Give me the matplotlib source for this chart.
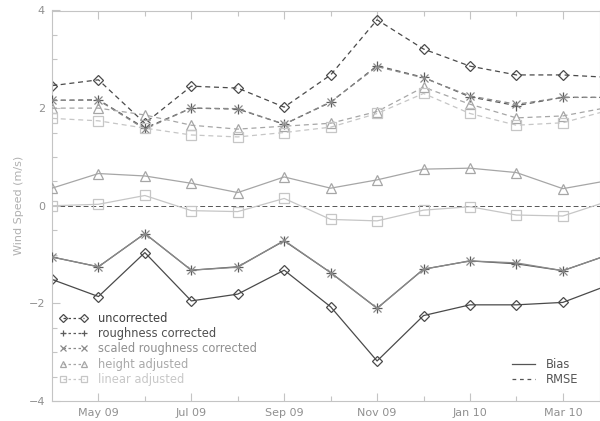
import matplotlib
matplotlib.use("Agg")
import matplotlib.pyplot as plt
from matplotlib.lines import Line2D
import numpy as np

months = list(range(13))  # Apr 09 .. Apr 10
tick_pos = [1, 3, 5, 7, 9, 11]
tick_labels = ["May 09", "Jul 09", "Sep 09", "Nov 09", "Jan 10", "Mar 10"]
minor_pos = [2, 4, 6, 8, 10]

series_names = ["uncorrected", "roughness corrected", "scaled roughness corrected",
                "height adjusted", "linear adjusted"]

rmse_uncorrected = [2.46, 2.58, 1.69, 2.45, 2.41, 2.02, 2.68, 3.81, 3.21, 2.86, 2.68, 2.68, 2.63]
rmse_roughness   = [2.16, 2.17, 1.59, 2.00, 1.98, 1.67, 2.12, 2.87, 2.63, 2.23, 2.05, 2.22, 2.22]
rmse_scaled      = [2.16, 2.16, 1.57, 2.00, 1.99, 1.67, 2.13, 2.85, 2.62, 2.25, 2.08, 2.22, 2.22]
rmse_height      = [2.00, 2.00, 1.86, 1.65, 1.57, 1.63, 1.69, 1.93, 2.43, 2.08, 1.80, 1.84, 2.02]
rmse_linear      = [1.79, 1.74, 1.59, 1.45, 1.41, 1.50, 1.61, 1.89, 2.30, 1.89, 1.65, 1.70, 1.96]

bias_uncorrected = [-1.51, -1.86, -0.96, -1.95, -1.81, -1.32, -2.07, -3.18, -2.25, -2.03, -2.03, -1.98, -1.62]
bias_roughness   = [-1.05, -1.25, -0.57, -1.32, -1.25, -0.72, -1.37, -2.10, -1.30, -1.13, -1.19, -1.33, -1.00]
bias_scaled      = [-1.05, -1.25, -0.57, -1.32, -1.26, -0.71, -1.37, -2.10, -1.30, -1.13, -1.17, -1.33, -1.00]
bias_height      = [0.36, 0.66, 0.61, 0.46, 0.27, 0.59, 0.36, 0.53, 0.75, 0.77, 0.68, 0.35, 0.52]
bias_linear      = [0.00, 0.03, 0.21, -0.10, -0.12, 0.15, -0.28, -0.31, -0.09, -0.02, -0.19, -0.21, 0.10]

colors = ["#4a4a4a", "#5c5c5c", "#8a8a8a", "#a6a6a6", "#c6c6c6"]
text_colors = ["#404040", "#505050", "#909090", "#aaaaaa", "#c8c8c8"]
markers = ["D", "+", "x", "^", "s"]
msizes = [5, 7, 6, 6.5, 6.5]

rmse = [rmse_uncorrected, rmse_roughness, rmse_scaled, rmse_height, rmse_linear]
bias = [bias_uncorrected, bias_roughness, bias_scaled, bias_height, bias_linear]

fig = plt.figure(figsize=(6.0, 4.21), dpi=100)
ax = fig.add_axes([52/600, 1-401/421, 1-52/600, (401-10.5)/421])

dash = (0, (4, 3))
ax.axhline(0, color="#555555", lw=0.7, ls=(0, (5, 3)), zorder=1)

order = [4, 3, 2, 1, 0]
for i in order:
    ax.plot(months, rmse[i], color=colors[i], ls=dash, lw=0.9, marker=markers[i],
            ms=msizes[i], mfc="none", mec=colors[i], mew=0.9, clip_on=True, zorder=2+i)
    ax.plot(months, bias[i], color=colors[i], ls="-", lw=0.9, marker=markers[i],
            ms=msizes[i], mfc="none", mec=colors[i], mew=0.9, clip_on=True, zorder=2+i)

ax.set_xlim(0, 11.8)
ax.set_ylim(-4, 4)
ax.set_xticks(tick_pos)
ax.set_xticklabels(tick_labels)
ax.set_xticks(minor_pos, minor=True)
ax.set_yticks([-4, -2, 0, 2, 4])
ax.set_yticklabels(["\u22124", "\u22122", "0", "2", "4"])
ax.set_yticks(np.arange(-4, 4.01, 0.5), minor=True)

spine_c = "#c4c4c4"
for s in ax.spines.values():
    s.set_color(spine_c)
    s.set_linewidth(0.8)
ax.tick_params(axis="both", which="both", direction="in", color=spine_c, width=0.8,
               top=True, right=False, labelcolor="#909090", labelsize=8)
ax.tick_params(axis="both", which="major", length=6, pad=5)
ax.tick_params(axis="both", which="minor", length=3.5)
ax.set_ylabel("Wind Speed (m/s)", color="#b0b0b0", fontsize=8, labelpad=3)

leg_ms = [4, 5, 4.5, 5, 5]
handles = []
for i in range(5):
    handles.append(Line2D([0], [0], color=colors[i], ls=(0, (2, 2)), lw=0.9,
                          marker=markers[i], ms=leg_ms[i], mfc="none",
                          mec=colors[i], mew=0.9))
leg1 = ax.legend(handles, series_names, loc="lower left", bbox_to_anchor=(-0.005, 0.012),
                 frameon=False, numpoints=2, handlelength=2.4, handletextpad=0.9,
                 labelspacing=0.2, fontsize=8.3)
for t, c in zip(leg1.get_texts(), text_colors):
    t.set_color(c)
ax.add_artist(leg1)

h2 = [Line2D([0], [0], color="#555555", ls="-", lw=0.9),
      Line2D([0], [0], color="#555555", ls=(0, (3, 3)), lw=0.9)]
leg2 = ax.legend(h2, ["Bias", "RMSE"], loc="lower left", bbox_to_anchor=(0.82, 0.012),
                 frameon=False, handlelength=2.0, handletextpad=1.0,
                 labelspacing=0.15, fontsize=8.3)
for t in leg2.get_texts():
    t.set_color("#555555")

fig.savefig("out.png", dpi=100)
